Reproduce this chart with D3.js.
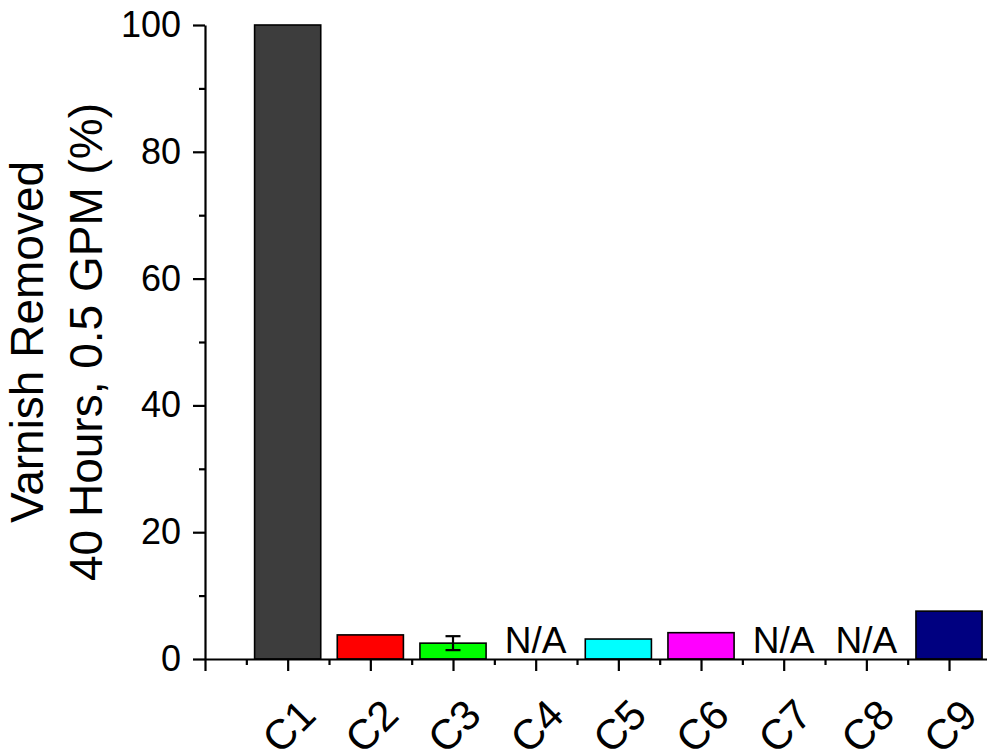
<!DOCTYPE html>
<html>
<head>
<meta charset="utf-8">
<script src="https://cdn.jsdelivr.net/npm/d3@7"></script>
<style>
  body { margin: 0; background: #fff; }
  svg { display: block; font-family: "Liberation Sans", Arial, sans-serif; }
</style>
</head>
<body>
<div class="chart-main"></div>
<script>
//////////
// DATA //
//////////

var categories = ['C1', 'C2', 'C3', 'C4', 'C5', 'C6', 'C7', 'C8', 'C9'];
var values = [100, 3.8, 2.5, null, 3.15, 4.15, null, null, 7.55];
var errors = [0, 0, 1.1, 0, 0, 0, 0, 0, 0];
var colors = ['#3d3d3d', '#ff0000', '#00ff00', '#ffffff', '#00ffff', '#ff00ff', '#ffffff', '#ffffff', '#000080'];
var yTicks = [0, 20, 40, 60, 80, 100];
var yMinorTicks = [10, 30, 50, 70, 90];
var titleLines = ['Varnish Removed', '40 Hours, 0.5 GPM (%)'];

//////////////////
// CREATING SVG //
//////////////////

var w = 987,
    h = 751;

var svg = d3.select('.chart-main')
    .append('svg')
    .attr('width', w)
    .attr('height', h);

var data = categories.map(function(c, i) {
    return { cat: c, pos: i + 1, value: values[i], err: errors[i], color: colors[i] };
});

////////////
// SCALES //
////////////

var xScale = d3.scaleLinear()
    .domain([0, 9.5])
    .range([205, 205 + 9.5 * 82.67]);

var yScale = d3.scaleLinear()
    .domain([0, 100])
    .range([659, 25]);

//////////
// BARS //
//////////

var barW = 82.67 * 0.8;

svg.selectAll('.bar')
    .data(data.filter(function(d) { return d.value !== null; }))
    .enter()
    .append('rect')
    .attr('class', 'bar')
    .attr('x', function(d) { return xScale(d.pos) - barW / 2; })
    .attr('y', function(d) { return yScale(d.value); })
    .attr('width', barW)
    .attr('height', function(d) { return yScale(0) - yScale(d.value); })
    .attr('fill', function(d) { return d.color; })
    .attr('stroke', '#000')
    .attr('stroke-width', 1.6);

// error bars
var errG = svg.selectAll('.err')
    .data(data.filter(function(d) { return d.value !== null && d.err > 0; }))
    .enter()
    .append('g')
    .attr('class', 'err')
    .attr('stroke', '#000')
    .attr('stroke-width', 2.2);

errG.append('line')
    .attr('x1', function(d) { return xScale(d.pos); })
    .attr('x2', function(d) { return xScale(d.pos); })
    .attr('y1', function(d) { return yScale(d.value - d.err); })
    .attr('y2', function(d) { return yScale(d.value + d.err); });

[-1, 1].forEach(function(s) {
    errG.append('line')
        .attr('x1', function(d) { return xScale(d.pos) - 7.5; })
        .attr('x2', function(d) { return xScale(d.pos) + 7.5; })
        .attr('y1', function(d) { return yScale(d.value + s * d.err); })
        .attr('y2', function(d) { return yScale(d.value + s * d.err); });
});

// N/A labels
svg.selectAll('.na')
    .data(data.filter(function(d) { return d.value === null; }))
    .enter()
    .append('text')
    .attr('class', 'na')
    .attr('x', function(d) { return xScale(d.pos); })
    .attr('y', 653)
    .attr('text-anchor', 'middle')
    .attr('font-size', 37)
    .text('N/A');

//////////
// AXIS //
//////////

var yAxis = d3.axisLeft(yScale)
    .tickValues(yTicks)
    .tickSize(12)
    .tickSizeOuter(0)
    .tickPadding(12)
    .tickFormat(d3.format('d'));

var yG = svg.append('g')
    .attr('transform', 'translate(205,0)')
    .call(yAxis);

svg.append('g')
    .attr('transform', 'translate(205,0)')
    .call(d3.axisLeft(yScale).tickValues(yMinorTicks).tickSize(6).tickFormat(''))
    .call(function(g) { g.select('.domain').remove(); });

var xAxis = d3.axisBottom(xScale)
    .tickValues(d3.range(0, 10))
    .tickSize(12)
    .tickSizeOuter(0)
    .tickFormat('');

var xG = svg.append('g')
    .attr('transform', 'translate(0,659)')
    .call(xAxis);

svg.append('g')
    .attr('transform', 'translate(0,659)')
    .call(d3.axisBottom(xScale).tickValues(d3.range(0.5, 9.5, 1)).tickSize(6).tickFormat(''))
    .call(function(g) { g.select('.domain').remove(); });

svg.selectAll('.domain, .tick line')
    .attr('stroke', '#000')
    .attr('stroke-width', 2.2);

yG.selectAll('text')
    .attr('font-size', 36)
    .attr('font-family', '"Liberation Sans", Arial, sans-serif')
    .attr('fill', '#000');

// rotated category labels
svg.selectAll('.xlab')
    .data(data)
    .enter()
    .append('text')
    .attr('class', 'xlab')
    .attr('transform', function(d) { return 'translate(' + (xScale(d.pos) + 1) + ',726) rotate(-45)'; })
    .attr('text-anchor', 'middle')
    .attr('dy', '0.35em')
    .attr('font-size', 42)
    .text(function(d) { return d.cat; });

// y title
var title = svg.append('text')
    .attr('transform', 'translate(0,342) rotate(-90)')
    .attr('text-anchor', 'middle')
    .attr('font-size', 46);

title.selectAll('tspan')
    .data(titleLines)
    .enter()
    .append('tspan')
    .attr('x', 0)
    .attr('y', function(d, i) { return 43 + i * 59; })
    .text(function(d) { return d; });
</script>
</body>
</html>
